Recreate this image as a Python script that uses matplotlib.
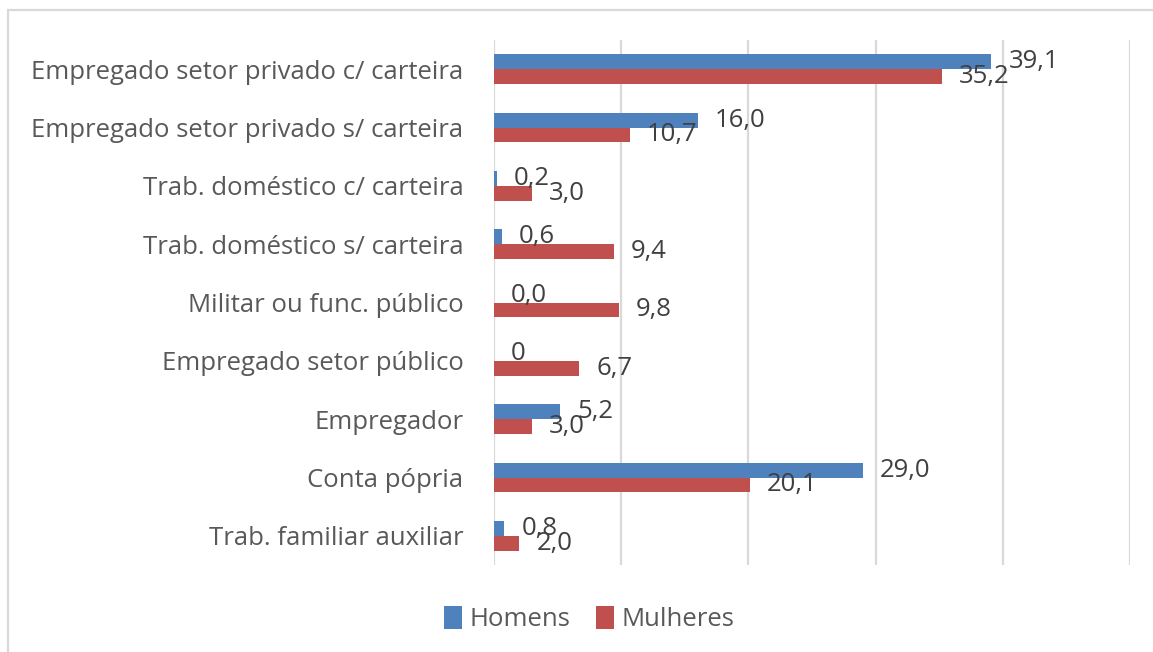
import numpy as np
import matplotlib.pyplot as plt
from matplotlib.patches import Rectangle

plt.rcParams['font.family'] = ['Open Sans', 'DejaVu Sans']

categorias = ['Empregado setor privado c/ carteira',
              'Empregado setor privado s/ carteira',
              'Trab. doméstico c/ carteira',
              'Trab. doméstico s/ carteira',
              'Militar ou func. público',
              'Empregado setor público',
              'Empregador',
              'Conta pópria',
              'Trab. familiar auxiliar']
homens = [39.1, 16.0, 0.2, 0.6, 0.0, 0.0, 5.2, 29.0, 0.8]
mulheres = [35.2, 10.7, 3.0, 9.4, 9.8, 6.7, 3.0, 20.1, 2.0]
rot_homens = ['39,1', '16,0', '0,2', '0,6', '0,0', '0', '5,2', '29,0', '0,8']
rot_mulheres = ['35,2', '10,7', '3,0', '9,4', '9,8', '6,7', '3,0', '20,1', '2,0']

AZUL = '#4F81BD'
VERM = '#C0504D'
W, H = 1153, 652
FS = 18.5

fig = plt.figure(figsize=(W / 100, H / 100), dpi=100)
# moldura do grafico (cortada a direita e embaixo)
fig.patches.append(Rectangle((8 / W, -0.1), 1.2, 1 - 10 / H + 0.1,
                             transform=fig.transFigure, fill=False,
                             edgecolor='#D9D9D9', lw=1.6))

ax = fig.add_axes([494 / W, 1 - 565 / H, (1130 - 494) / W, (565 - 40) / H])

y = np.arange(len(categorias))
h = 0.255
b1 = ax.barh(y - h / 2, homens, height=h, color=AZUL, label='Homens')
b2 = ax.barh(y + h / 2, mulheres, height=h, color=VERM, label='Mulheres')

for bars, rots in ((b1, rot_homens), (b2, rot_mulheres)):
    for bar, txt in zip(bars, rots):
        ax.annotate(txt, (bar.get_width(), bar.get_y() + bar.get_height() / 2),
                    xytext=(12.3, 0), textcoords='offset points',
                    ha='left', va='center', fontsize=FS, color='#404040')

ax.set_xlim(0, 50)
ax.set_ylim(len(categorias) - 0.5, -0.5)
ax.set_xticks(np.arange(0, 51, 10))
ax.set_xticklabels([])
ax.set_yticks(y)
ax.set_yticklabels(categorias, fontsize=FS, color='#595959')
ax.tick_params(length=0, pad=22)
ax.xaxis.grid(True, color='#D9D9D9', lw=1.6)
ax.set_axisbelow(True)
for s in ax.spines.values():
    s.set_visible(False)

fig.legend(handles=[b1, b2], loc='center', bbox_to_anchor=(589 / W, 1 - 619 / H),
           ncol=2, frameon=False, fontsize=FS, handlelength=0.7, handleheight=1.0,
           handletextpad=0.3, columnspacing=1.0, labelcolor='#595959')

fig.savefig('out.png', dpi=100)
